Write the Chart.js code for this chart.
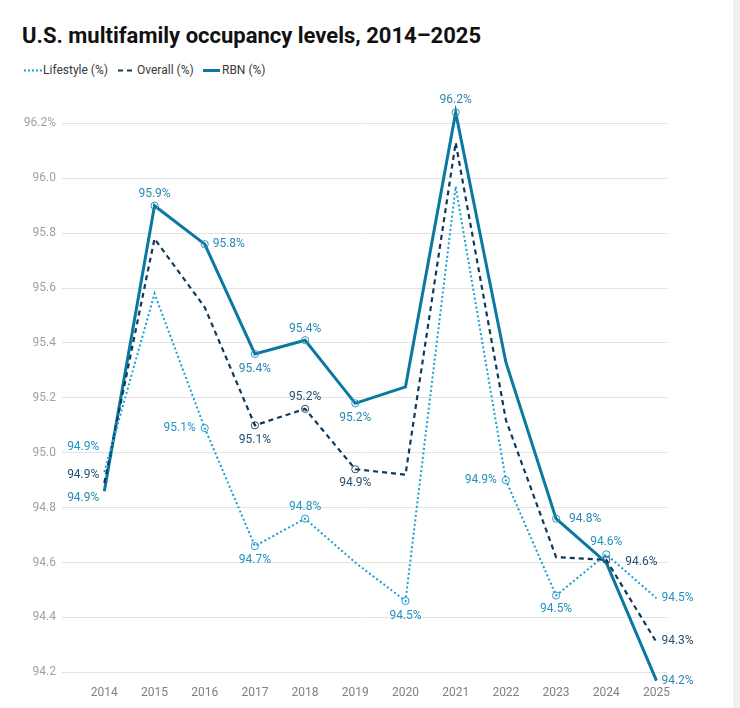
<!DOCTYPE html>
<html>
<head>
<meta charset="utf-8">
<script src="https://cdn.jsdelivr.net/npm/chart.js@4.4.1/dist/chart.umd.min.js"></script>
<style>
  html, body { margin:0; padding:0; background:#fff; }
  body { width:740px; height:708px; position:relative; overflow:hidden; font-family: Roboto, "Noto Sans", sans-serif; }
  #title { position:absolute; left:22px; top:23px; font-size:22px; font-weight:700; color:#111; white-space:nowrap; }
  .lg { position:absolute; top:62px; font-size:12px; color:#3a3a3a; white-space:nowrap; line-height:16px; }
  .lg svg { position:absolute; top:0; }
  #wrap { position:absolute; left:0; top:80px; width:740px; height:628px; }
  #sb { position:absolute; left:733px; top:0; width:7px; height:708px; background:#f1f1f1; }
</style>
</head>
<body>
<div id="title">U.S. multifamily occupancy levels, 2014–2025</div>
<div class="lg" style="left:24px;width:90px;">
  <svg width="18" height="16" style="left:0"><line x1="0" y1="8.5" x2="18" y2="8.5" stroke="#1a9fd2" stroke-width="2" stroke-dasharray="2,2"/></svg>
  <span style="position:absolute;left:19px;">Lifestyle (%)</span>
</div>
<div class="lg" style="left:118px;width:80px;">
  <svg width="15" height="16" style="left:0"><line x1="0" y1="8.5" x2="15" y2="8.5" stroke="#0e3a5a" stroke-width="2" stroke-dasharray="5,4"/></svg>
  <span style="position:absolute;left:19px;">Overall (%)</span>
</div>
<div class="lg" style="left:203px;width:70px;">
  <svg width="17" height="16" style="left:0"><line x1="0" y1="8.5" x2="17" y2="8.5" stroke="#0a78a0" stroke-width="3"/></svg>
  <span style="position:absolute;left:19px;">RBN (%)</span>
</div>
<div id="wrap"><canvas id="c" width="740" height="628"></canvas></div>
<div id="sb"></div>
<script>
// ---- data ----
const years = [2014, 2015, 2016, 2017, 2018, 2019, 2020, 2021, 2022, 2023, 2024, 2025];
const lifestyle = [94.93, 95.58, 95.09, 94.66, 94.76, 94.60, 94.46, 95.97, 94.90, 94.48, 94.63, 94.47];
const overall   = [94.89, 95.78, 95.53, 95.10, 95.16, 94.94, 94.92, 96.13, 95.12, 94.62, 94.61, 94.31];
const rbn       = [94.86, 95.90, 95.76, 95.36, 95.41, 95.18, 95.24, 96.24, 95.33, 94.76, 94.60, 94.17];
const yTicks = [94.2, 94.4, 94.6, 94.8, 95.0, 95.2, 95.4, 95.6, 95.8, 96.0, 96.2];
const seriesNames = ['Lifestyle (%)', 'Overall (%)', 'RBN (%)'];

// ---- label placement (layout only): year -> [dx, dy, textAlign] ----
const lifestyleLabels = { 2014:[-5,-25,'right'], 2016:[-9,0,'right'], 2017:[0,14,'center'], 2018:[0,-12,'center'],
  2020:[0,15,'center'], 2022:[-9,0,'right'], 2023:[0,14,'center'], 2024:[0,-12,'center'], 2025:[5,0,'left'] };
const overallLabels = { 2014:[-5,-8,'right'], 2017:[0,14.5,'center'], 2018:[0,-12,'center'], 2019:[0,14,'center'],
  2024:[19,2,'left'], 2025:[5,-1.5,'left'] };
const rbnLabels = { 2014:[-5,7,'right'], 2015:[0,-12,'center'], 2016:[8,0,'left'], 2017:[0,15,'center'],
  2018:[0,-11,'center'], 2019:[0,14.5,'center'], 2021:[0,-12.5,'center'], 2023:[13,0.5,'left'], 2025:[5,0,'left'] };
const lifestyleMarkers = [2016, 2017, 2018, 2020, 2022, 2023, 2024];
const overallMarkers = [2017, 2018, 2019, 2024];
const rbnMarkers = [2015, 2016, 2017, 2018, 2019, 2021, 2023];

const mk = (vals) => years.map((y, i) => ({ x: y, y: vals[i] }));
const radii = (marks) => years.map(y => marks.includes(y) ? 3.6 : 0);

const labelPlugin = {
  id: 'pointLabels',
  afterDatasetsDraw(chart) {
    const ctx = chart.ctx;
    ctx.save();
    ctx.font = '12px Roboto, "Noto Sans", sans-serif';
    ctx.textBaseline = 'middle';
    chart.data.datasets.forEach((ds, di) => {
      const meta = chart.getDatasetMeta(di);
      meta.data.forEach((pt, i) => {
        const pl = ds.labelPlacement[years[i]];
        if (!pl) return;
        const v = Math.round(ds.data[i].y * 10) / 10;
        ctx.fillStyle = ds.labelColor;
        ctx.textAlign = pl[2];
        ctx.fillText(v.toFixed(1) + '%', pt.x + pl[0], pt.y + pl[1]);
      });
    });
    ctx.restore();
  }
};

new Chart(document.getElementById('c'), {
  type: 'line',
  data: {
    datasets: [
      { label: seriesNames[0], data: mk(lifestyle), borderColor: '#1a9fd2', borderWidth: 2, borderDash: [2, 2.5],
        pointRadius: radii(lifestyleMarkers), pointBorderColor: '#2a9ccb', pointBackgroundColor: 'rgba(0,0,0,0)',
        pointBorderWidth: 1, tension: 0, labelColor: '#2394c2', labelPlacement: lifestyleLabels },
      { label: seriesNames[1], data: mk(overall), borderColor: '#0e3a5a', borderWidth: 2.2, borderDash: [5, 4],
        pointRadius: radii(overallMarkers), pointBorderColor: '#264f70', pointBackgroundColor: 'rgba(0,0,0,0)',
        pointBorderWidth: 1, tension: 0, labelColor: '#274f70', labelPlacement: overallLabels },
      { label: seriesNames[2], data: mk(rbn), borderColor: '#0a78a0', borderWidth: 3,
        pointRadius: radii(rbnMarkers), pointBorderColor: '#3a90b8', pointBackgroundColor: 'rgba(0,0,0,0)',
        pointBorderWidth: 1, tension: 0, labelColor: '#2b87b1', labelPlacement: rbnLabels }
    ]
  },
  options: {
    responsive: false,
    animation: false,
    devicePixelRatio: 1,
    clip: false,
    layout: { padding: { top: 10, right: 73, left: 0, bottom: 0 } },
    plugins: { legend: { display: false }, title: { display: false }, tooltip: { enabled: false } },
    scales: {
      x: {
        type: 'linear', min: 2013.157, max: 2025.21,
        afterBuildTicks: (s) => { s.ticks = years.map(v => ({ value: v })); },
        afterFit: (s) => { s.height = 23.3; },
        grid: { display: false, drawTicks: false },
        border: { display: false },
        ticks: { padding: 1, color: '#808080', font: { size: 12, family: 'Roboto' }, callback: (v) => String(v), autoSkip: false, maxRotation: 0 }
      },
      y: {
        type: 'linear', min: 94.155, max: 96.31,
        afterBuildTicks: (s) => { s.ticks = yTicks.map(v => ({ value: v })); },
        afterFit: (s) => { s.width = 62; },
        grid: { color: '#e3e3e3', lineWidth: 1, drawTicks: false },
        border: { display: false },
        ticks: { padding: 6, color: '#a0a0a0', font: { size: 12, family: 'Roboto' },
          callback: (v) => Math.abs(v - 96.2) < 1e-6 ? '96.2%' : v.toFixed(1) }
      }
    }
  },
  plugins: [labelPlugin]
});
</script>
</body>
</html>
